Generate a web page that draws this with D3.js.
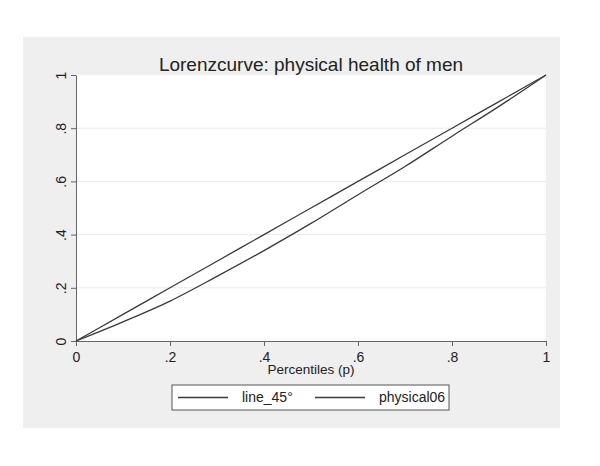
<!DOCTYPE html>
<html>
<head>
<meta charset="utf-8">
<script src="https://cdn.jsdelivr.net/npm/d3@7"></script>
<style>
  body { margin: 0; background: #fff; }
  text { font-family: "Liberation Sans", Arial, sans-serif; fill: #222; }
</style>
</head>
<body>
<svg id="chart" width="600" height="466"></svg>
<script>
const percentiles = [0, 0.1, 0.2, 0.3, 0.4, 0.5, 0.6, 0.7, 0.8, 0.9, 1];
const line45 = [0, 0.1, 0.2, 0.3, 0.4, 0.5, 0.6, 0.7, 0.8, 0.9, 1];
const physical06 = [0, 0.072, 0.15, 0.243, 0.34, 0.442, 0.55, 0.656, 0.77, 0.882, 1];
const xTicks = [0, 0.2, 0.4, 0.6, 0.8, 1];
const yTicks = [0, 0.2, 0.4, 0.6, 0.8, 1];
const seriesNames = ['line_45°', 'physical06'];

const MARGIN = {top: 75, right: 54, bottom: 125, left: 76};
const width = 600, height = 466;
const innerWidth = width - MARGIN.left - MARGIN.right;
const innerHeight = height - MARGIN.top - MARGIN.bottom;

const fmt = d => d === 0 || d === 1 ? String(d) : String(d).replace(/^0/, '');

const svg = d3.select('#chart');

// outer grey panel
svg.append('rect')
  .attr('x', 23).attr('y', 37)
  .attr('width', 537).attr('height', 391)
  .attr('fill', '#efefef');

const g = svg.append('g')
  .attr('transform', `translate(${MARGIN.left}, ${MARGIN.top})`);

g.append('rect')
  .attr('width', innerWidth).attr('height', innerHeight)
  .attr('fill', '#fff');

const x = d3.scaleLinear().domain([0, 1]).range([0, innerWidth]);
const y = d3.scaleLinear().domain([0, 1]).range([innerHeight, 0]);

// gridlines
g.selectAll('.grid')
  .data(yTicks.filter(d => d > 0 && d < 1))
  .enter().append('line')
    .attr('x1', 0).attr('x2', innerWidth)
    .attr('y1', d => y(d)).attr('y2', d => y(d))
    .attr('stroke', '#eaeaea')
    .attr('stroke-width', 1);

const xAxis = g.append('g')
  .attr('font-size', 14)
  .attr('font-family', '"Liberation Sans", Arial, sans-serif')
  .attr('transform', `translate(0, ${innerHeight})`)
  .call(d3.axisBottom(x).tickValues(xTicks).tickFormat(fmt).tickSize(5).tickSizeOuter(0))
  .attr('font-size', 14)
  .attr('font-family', '"Liberation Sans", Arial, sans-serif');

xAxis.select('.domain').attr('stroke', '#666');
xAxis.selectAll('.tick line').attr('stroke', '#666');
xAxis.selectAll('.tick text')
  .attr('y', 11)
  .attr('dy', '0.71em')
  .attr('fill', '#222');

const yAxis = g.append('g')
  .call(d3.axisLeft(y).tickValues(yTicks).tickFormat(fmt).tickSize(5).tickSizeOuter(0))
  .attr('font-size', 14)
  .attr('font-family', '"Liberation Sans", Arial, sans-serif');

yAxis.select('.domain').attr('stroke', '#666');
yAxis.selectAll('.tick line').attr('stroke', '#666');
yAxis.selectAll('.tick text')
  .attr('x', null).attr('dy', null)
  .attr('transform', 'translate(-10, 0) rotate(-90)')
  .attr('text-anchor', 'middle')
  .attr('fill', '#222');

// axis title
g.append('text')
  .attr('x', innerWidth / 2)
  .attr('y', innerHeight + 33)
  .attr('text-anchor', 'middle')
  .style('font-size', '13.5px')
  .text('Percentiles (p)');

// title
g.append('text')
  .attr('x', innerWidth / 2)
  .attr('y', -4)
  .attr('text-anchor', 'middle')
  .style('font-size', '19px')
  .text('Lorenzcurve: physical health of men');

const line = d3.line()
  .x((d, i) => x(percentiles[i]))
  .y(d => y(d))
  .curve(d3.curveMonotoneX);

[line45, physical06].forEach(values => {
  g.append('path')
    .attr('d', line(values))
    .attr('fill', 'none')
    .attr('stroke', '#3a3a3a')
    .attr('stroke-width', 1.3);
});

// legend
const legend = svg.append('g').attr('transform', 'translate(172, 385)');
legend.append('rect')
  .attr('width', 277).attr('height', 25)
  .attr('fill', '#fff')
  .attr('stroke', '#555');

const items = legend.selectAll('.item')
  .data(seriesNames)
  .enter().append('g')
    .attr('transform', (d, i) => `translate(${i === 0 ? 6 : 143}, 12.5)`);

items.append('line')
  .attr('x1', 0).attr('x2', 50)
  .attr('stroke', '#3a3a3a')
  .attr('stroke-width', 1.3);

items.append('text')
  .attr('x', 64)
  .attr('dy', '0.35em')
  .style('font-size', '14px')
  .text(d => d);
</script>
</body>
</html>
